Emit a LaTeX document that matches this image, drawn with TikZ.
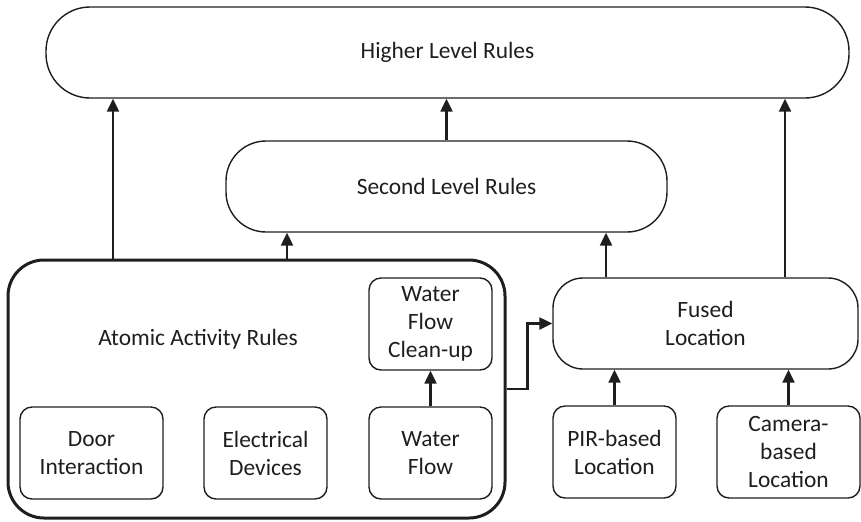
\documentclass[tikz,border=0pt]{standalone}
\usepackage{fontspec}
\setmainfont{Carlito}
\usetikzlibrary{arrows.meta}
\definecolor{ink}{HTML}{1E1E1E}
\tikzset{
  box/.style={draw=ink, line width=0.7pt, rectangle, align=center, text=ink,
    font=\fontsize{11.7}{14}\selectfont, inner sep=0pt},
  bigbox/.style={box, line width=1.5pt},
  arr/.style={draw=ink, line width=1.15pt, -{Triangle[length=6.5pt,width=6pt]}},
  lbl/.style={text=ink, font=\fontsize{11.7}{14}\selectfont, align=center, inner sep=0pt}
}
\begin{document}
\begin{tikzpicture}[x=0.5pt, y=-0.5pt]
  \useasboundingbox (0,0) rectangle (861,521);
  % upper rule layers
  \node[box, minimum width=401.5pt, minimum height=45.5pt, rounded corners=22pt] (higher) at (447.5,52.5) {Higher Level Rules};
  \node[box, minimum width=220.5pt, minimum height=45.5pt, rounded corners=20pt] (second) at (446.5,186.5) {Second Level Rules};
  % atomic activity container
  \node[bigbox, minimum width=248.5pt, minimum height=129pt, rounded corners=18pt] (atomic) at (256.5,389) {};
  \node[lbl] (atomlbl) at (198,339) {Atomic Activity Rules};
  \node[box, minimum width=61.5pt, minimum height=46pt, rounded corners=6pt] (cleanup) at (430.5,324) {Water\\Flow\\Clean-up};
  \node[box, minimum width=71.5pt, minimum height=46pt, rounded corners=6pt] (door) at (91.5,453) {Door\\Interaction};
  \node[box, minimum width=61.5pt, minimum height=46pt, rounded corners=6pt] (elec) at (265.5,453) {Electrical\\Devices};
  \node[box, minimum width=61.5pt, minimum height=46pt, rounded corners=6pt] (water) at (430.5,453) {Water\\Flow};
  % location branch
  \node[box, minimum width=152.5pt, minimum height=45.5pt, rounded corners=15pt] (fused) at (705.5,323.5) {Fused\\Location};
  \node[box, minimum width=61.5pt, minimum height=46pt, rounded corners=6pt] (pir) at (614.5,452) {PIR-based\\Location};
  \node[box, minimum width=71.5pt, minimum height=46pt, rounded corners=6pt] (camera) at (788.5,452) {Camera-\\based\\Location};
  % connectors
  \draw[arr] (113,0 |- atomic.north) -- (113,0 |- higher.south);
  \draw[arr] (second.north) -- (second.north |- higher.south);
  \draw[arr] (785,0 |- fused.north) -- (785,0 |- higher.south);
  \draw[arr] (287,0 |- atomic.north) -- (287,0 |- second.south);
  \draw[arr] (606,0 |- fused.north) -- (606,0 |- second.south);
  \draw[arr] (water.north) -- (cleanup.south);
  \draw[arr] (pir.north) -- (pir.north |- fused.south);
  \draw[arr] (camera.north) -- (camera.north |- fused.south);
  \draw[arr] (atomic.east |- 0,389) -- ++(21,0) |- (fused.west);
\end{tikzpicture}
\end{document}
